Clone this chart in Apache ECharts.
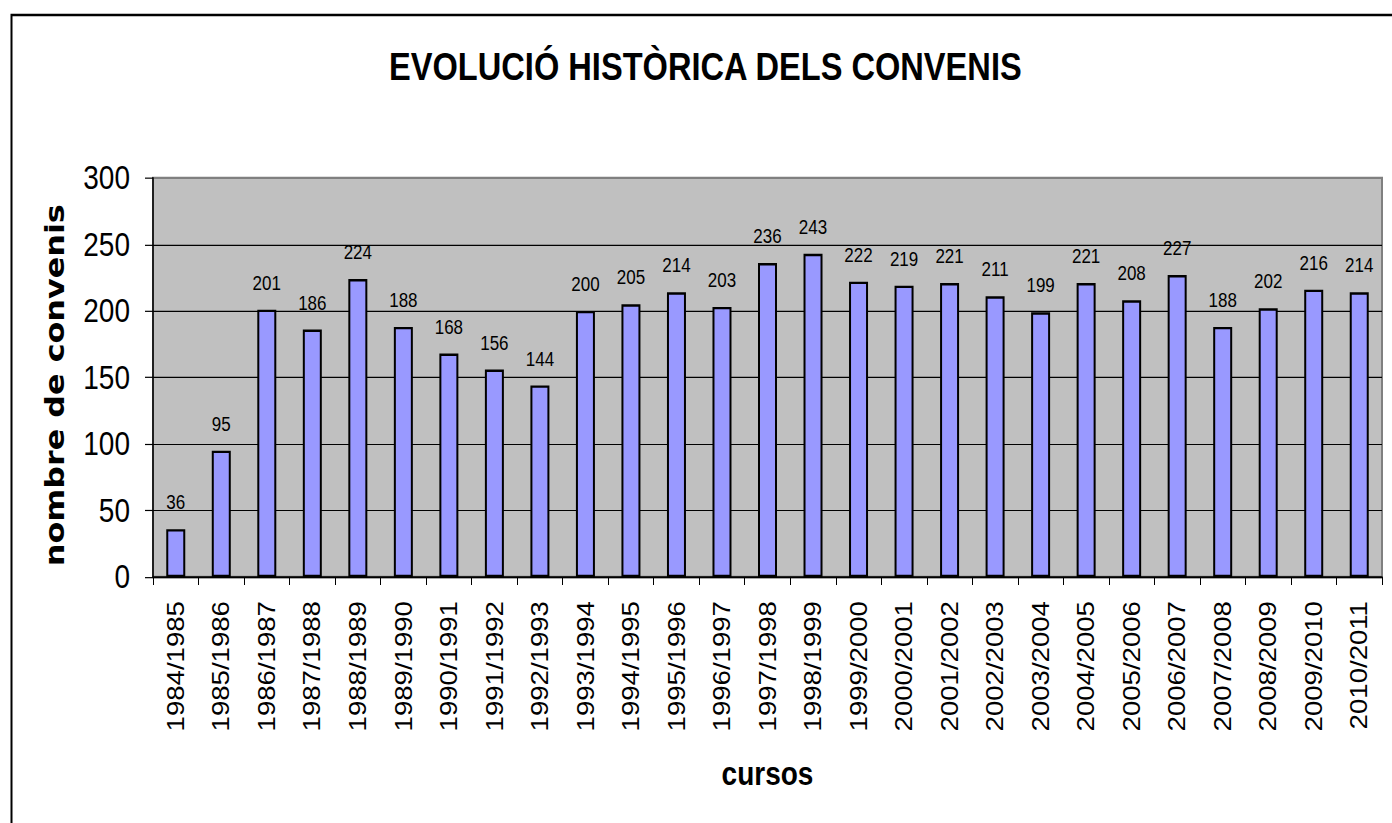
<!DOCTYPE html>
<html><head><meta charset="utf-8">
<script src="https://cdn.jsdelivr.net/npm/echarts@6/dist/echarts.min.js"></script>
<style>
html{margin:0;padding:0;background:#fff;overflow:hidden}
body{margin:0;padding:0;background:#fff;height:823px}
#c{width:1392px;height:686px;transform:scaleY(1.19971);transform-origin:0 0;}
</style>
</head><body><div id="c"></div>
<script>
const titleText = 'EVOLUCIÓ HISTÒRICA DELS CONVENIS';
const xAxisName = 'cursos';
const yAxisName = 'nombre de convenis';
const categories = ['1984/1985','1985/1986','1986/1987','1987/1988','1988/1989','1989/1990','1990/1991','1991/1992','1992/1993','1993/1994','1994/1995','1995/1996','1996/1997','1997/1998','1998/1999','1999/2000','2000/2001','2001/2002','2002/2003','2003/2004','2004/2005','2005/2006','2006/2007','2007/2008','2008/2009','2009/2010','2010/2011'];
const values = [36,95,201,186,224,188,168,156,144,200,205,214,203,236,243,222,219,221,211,199,221,208,227,188,202,216,214];
const yMin = 0, yMax = 300, yInterval = 50;

const W = 1392, H = 686;
const chart = echarts.init(document.getElementById('c'), null, {renderer:'svg', width:W, height:H});
const FONT = "'Liberation Sans', Arial, sans-serif";
chart.setOption({
  animation:false,
  backgroundColor:'#ffffff',
  title:{
    text:titleText, left:389, top:39, padding:0,
    textStyle:{fontFamily:FONT, fontWeight:'bold', fontSize:32.6, color:'#000'}
  },
  graphic:[{
    type:'rect', left:9, top:10, z:-10,
    shape:{x:0,y:0,width:1400,height:700},
    style:{fill:'none', stroke:'#000', lineWidth:2}
  }],
  grid:{
    left:153, right:10, top:148.3, bottom:205,
    show:true, backgroundColor:'#c0c0c0', borderColor:'#808080', borderWidth:2
  },
  xAxis:{
    type:'category', data:categories,
    name:xAxisName, nameLocation:'middle', nameGap:150,
    nameTextStyle:{fontFamily:FONT, fontWeight:'bold', fontSize:28, color:'#000'},
    axisLine:{lineStyle:{color:'#000', width:1.5}},
    axisTick:{show:true, length:6.7, lineStyle:{color:'#000', width:1}},
    axisLabel:{rotate:90, margin:20, fontFamily:FONT, fontSize:23, color:'#000', interval:0}
  },
  yAxis:{
    type:'value', min:yMin, max:yMax, interval:yInterval,
    name:yAxisName, nameLocation:'middle', nameGap:85,
    nameTextStyle:{fontFamily:"'DejaVu Sans', sans-serif", fontWeight:'bold', fontSize:26.5, color:'#000', padding:[0,13,0,0]},
    axisLine:{show:true, lineStyle:{color:'#000', width:1.5}},
    axisTick:{show:true, length:8, lineStyle:{color:'#000', width:1}},
    axisLabel:{margin:23, fontFamily:FONT, fontSize:28, color:'#000'},
    splitLine:{show:true, lineStyle:{color:['#000','#000','#000','#000','#000','#000','#808080'], width:1}}
  },
  series:[{
    type:'bar', data:values, barWidth:19,
    itemStyle:{color:'#9999ff', borderColor:'#000', borderWidth:2},
    label:{show:true, position:'top', distance:14, fontFamily:FONT, fontSize:17, color:'#000'}
  }]
});
</script>
</body></html>
